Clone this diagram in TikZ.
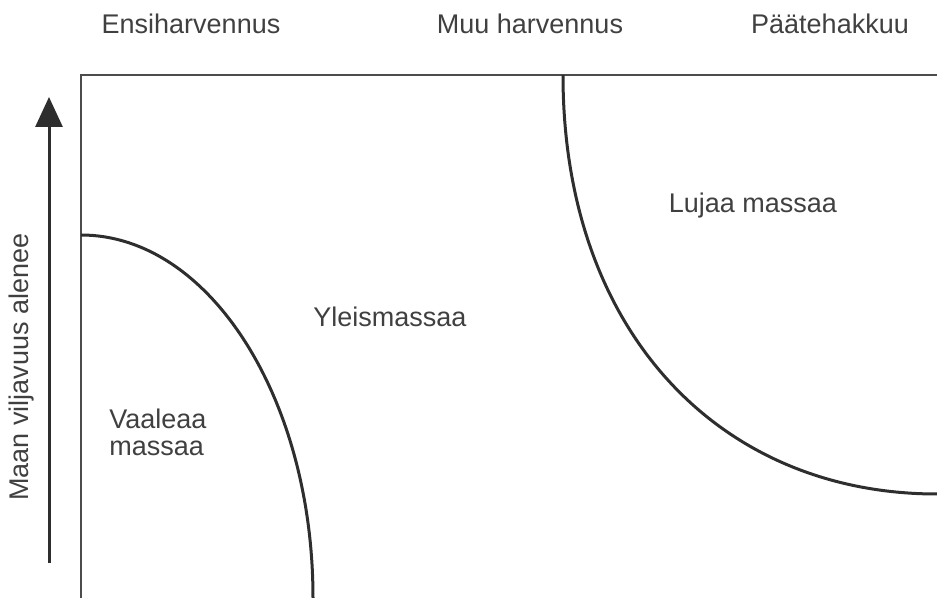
\documentclass[tikz,border=0pt]{standalone}
\usepackage{fontspec}
\setmainfont{Liberation Sans}
\usetikzlibrary{arrows.meta}

\begin{document}
\begin{tikzpicture}[x=0.5pt,y=-0.5pt,
    teksti/.style={text=black!75, font=\fontsize{13.5}{13.5}\selectfont, inner sep=0pt},
    kehys/.style={draw=black!70, line width=1pt},
    raja/.style={draw=black!82, line width=1.5pt}]
    \useasboundingbox (0,0) rectangle (937,598);
    \node[teksti, anchor=base] (ensi) at (191,34) {Ensiharvennus};
    \node[teksti, anchor=base] (muu) at (530,34) {Muu harvennus};
    \node[teksti, anchor=base] (paate) at (830,34) {Päätehakkuu};
    \node[teksti, rotate=90, anchor=base] (akseli) at (28,367) {Maan viljavuus alenee};
    \node[teksti, anchor=base] (yleis) at (390,327) {Yleismassaa};
    \node[teksti, anchor=base] (luja) at (753,213) {Lujaa massaa};
    \node[teksti, anchor=base west, align=left] (vaalea) at (109,456) {Vaaleaa\\massaa};
    \coordinate (ylavasen) at (81,75);
    \coordinate (alavasen) at (81,598);
    \coordinate (ylaoikea) at (937,75);
    \coordinate (nuolialku) at (49,563);
    \coordinate (nuolikarki) at (49,97);
    \coordinate (vaaleaalku) at (81,235);
    \coordinate (vaalealoppu) at (313,598);
    \coordinate (lujaalku) at (563,75);
    \coordinate (lujaloppu) at (937,494);
    \draw[kehys] (alavasen) -- (ylavasen) -- (ylaoikea);
    \draw[raja, -{Triangle[width=13.5pt,length=15pt]}] (nuolialku) -- (nuolikarki);
    \draw[raja] (vaaleaalku) .. controls (209,235) and (313,398) .. (vaalealoppu);
    \draw[raja] (lujaalku) .. controls (563,332) and (720,494) .. (lujaloppu);
\end{tikzpicture}
\end{document}
